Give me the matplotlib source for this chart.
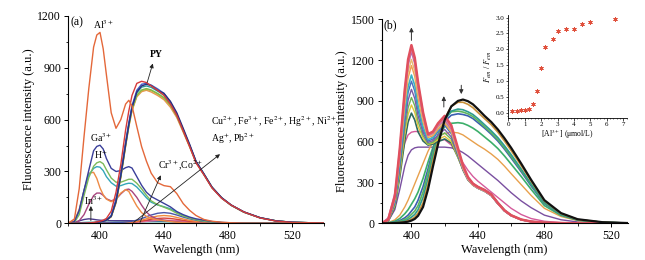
import matplotlib
matplotlib.use('Agg')
import matplotlib.pyplot as plt
from matplotlib.ticker import MultipleLocator

plt.rcParams['font.family'] = ['Liberation Serif', 'DejaVu Serif']
plt.rcParams['mathtext.fontset'] = 'stix'

# ---------------- panel (a) data ----------------
wl_a = [380, 384, 387, 390, 393, 396, 398, 400, 402, 404, 407, 410, 413, 416, 418, 420, 423, 426,
        429, 432, 436, 440, 444, 448, 452, 456, 460, 465, 470, 476, 482, 490, 500, 510, 520, 540]
al3 = [0, 25, 200, 500, 780, 1020, 1090, 1105, 1010, 860, 640, 550, 600, 690, 712, 680, 560, 444,
       360, 290, 235, 218, 212, 172, 114, 75, 45, 22, 12, 6, 3, 1, 0, 0, 0, 0]
py_red = [0, 0, 0, 0, 2, 5, 8, 12, 18, 28, 70, 180, 340, 540, 650, 740, 810, 822,
          815, 795, 770, 740, 690, 625, 535, 445, 350, 280, 205, 145, 105, 65, 31, 13, 5, 1]
py_blue = [0, 0, 0, 0, 1, 3, 5, 8, 12, 18, 45, 140, 290, 470, 580, 680, 770, 805,
           810, 800, 778, 752, 702, 632, 542, 452, 356, 283, 207, 147, 105, 65, 32, 14, 6, 1]
py_navy = [0, 0, 0, 0, 1, 3, 5, 8, 12, 18, 40, 125, 275, 455, 570, 670, 760, 795,
           805, 797, 770, 752, 706, 640, 550, 458, 360, 286, 210, 149, 106, 66, 33, 14, 6, 1]
py_teal = [0, 0, 0, 0, 1, 3, 5, 8, 12, 18, 42, 130, 280, 462, 575, 672, 755, 788,
           795, 787, 765, 742, 696, 630, 542, 452, 357, 284, 208, 147, 105, 65, 32, 14, 6, 1]
py_green = [0, 0, 0, 0, 1, 3, 5, 8, 12, 18, 40, 125, 272, 452, 565, 660, 742, 772,
            780, 772, 752, 728, 686, 622, 536, 448, 355, 283, 208, 147, 104, 64, 32, 14, 6, 1]
py_olive = [0, 0, 0, 0, 1, 3, 5, 8, 12, 18, 38, 120, 268, 448, 560, 655, 737, 767,
            775, 768, 748, 722, 680, 618, 533, 446, 354, 282, 207, 147, 104, 64, 32, 14, 6, 1]
py_orange = [0, 0, 0, 0, 1, 3, 5, 8, 12, 18, 38, 118, 265, 445, 558, 652, 732, 762,
             770, 760, 740, 715, 672, 612, 528, 442, 352, 280, 206, 146, 104, 64, 32, 14, 6, 1]
ga3 = [0, 10, 75, 190, 307, 420, 445, 452, 430, 375, 318, 300, 305, 322, 328, 320, 270, 220,
       180, 155, 135, 115, 95, 68, 50, 36, 26, 18, 10, 5, 3, 1, 0, 0, 0, 0]
h_ion = [0, 4, 50, 160, 265, 330, 350, 357, 345, 310, 262, 238, 238, 248, 255, 255, 232, 200,
         162, 130, 108, 93, 78, 58, 42, 30, 21, 13, 8, 4, 2, 1, 0, 0, 0, 0]
teal_a = [0, 6, 70, 190, 280, 318, 328, 325, 305, 270, 235, 215, 218, 228, 232, 230, 210, 180,
          148, 122, 106, 96, 84, 64, 45, 32, 22, 14, 8, 4, 2, 1, 0, 0, 0, 0]
orange_a = [0, 15, 80, 190, 290, 295, 260, 205, 165, 140, 125, 140, 175, 195, 185, 150, 100, 62,
            40, 28, 20, 15, 10, 6, 4, 2, 1, 0, 0, 0, 0, 0, 0, 0, 0, 0]
magenta_a = [0, 2, 15, 50, 110, 160, 175, 175, 162, 142, 130, 140, 170, 195, 198, 185, 150, 105,
             65, 40, 25, 18, 12, 8, 5, 3, 2, 1, 0, 0, 0, 0, 0, 0, 0, 0]
low1 = [0, 0, 0, 0, 1, 2, 2, 2, 2, 2, 3, 4, 5, 7, 9, 12, 18, 27,
        38, 48, 58, 62, 58, 48, 36, 26, 18, 10, 6, 3, 2, 1, 0, 0, 0, 0]
low2 = [0, 0, 0, 0, 0, 0, 0, 0, 0, 1, 2, 3, 4, 5, 6, 8, 12, 18,
        26, 34, 42, 45, 42, 34, 25, 17, 11, 6, 3, 1, 0, 0, 0, 0, 0, 0]
low3 = [0, 0, 0, 0, 0, 0, 0, 0, 0, 1, 1, 2, 3, 4, 5, 6, 9, 13,
        18, 23, 28, 30, 28, 23, 17, 12, 8, 4, 2, 1, 0, 0, 0, 0, 0, 0]
low4 = [0, 0, 0, 0, 0, 0, 0, 0, 0, 0, 1, 1, 2, 2, 3, 4, 6, 8,
        11, 14, 17, 18, 17, 14, 10, 7, 5, 3, 1, 0, 0, 0, 0, 0, 0, 0]
low5 = [0, 5, 14, 22, 26, 23, 20, 18, 17, 16, 15, 15, 15, 15, 15, 15, 15, 15,
        15, 15, 15, 15, 14, 13, 12, 10, 8, 6, 4, 2, 1, 0, 0, 0, 0, 0]
low6 = [0, 1, 3, 5, 6, 6, 6, 6, 6, 6, 6, 7, 7, 8, 8, 8, 9, 9,
        9, 9, 9, 9, 8, 8, 7, 6, 5, 4, 3, 2, 1, 0, 0, 0, 0, 0]

# ---------------- panel (b) data ----------------
wl_b = [382, 386, 390, 393, 396, 398, 400, 402, 404, 407, 410, 413, 416, 420, 424, 428,
        431, 434, 437, 440, 444, 448, 452, 456, 460, 466, 472, 480, 490, 500, 515, 530]
b_py = [0, 0, 2, 4, 8, 12, 20, 32, 55, 120, 250, 420, 580, 760, 860, 900,
        910, 898, 875, 840, 790, 745, 690, 625, 555, 440, 320, 170, 75, 30, 8, 2]
b_olive = [0, 0, 3, 6, 12, 18, 30, 45, 75, 150, 290, 460, 610, 770, 860, 890,
           890, 875, 850, 815, 770, 725, 670, 605, 535, 425, 310, 165, 72, 28, 7, 2]
b_teal = [0, 1, 4, 9, 18, 28, 45, 65, 100, 190, 330, 490, 630, 760, 825, 840,
          835, 820, 800, 770, 725, 680, 630, 570, 505, 400, 290, 155, 68, 27, 7, 2]
b_green = [0, 1, 6, 14, 28, 42, 65, 90, 130, 230, 370, 520, 650, 770, 820, 825,
           818, 805, 785, 755, 710, 665, 615, 555, 490, 390, 285, 150, 66, 26, 7, 2]
b_blue = [0, 2, 8, 20, 40, 60, 90, 120, 170, 270, 400, 540, 650, 750, 795, 805,
          800, 790, 770, 740, 700, 655, 605, 545, 480, 380, 275, 145, 64, 25, 7, 2]
b_green2 = [0, 3, 15, 35, 70, 100, 140, 180, 230, 330, 450, 560, 640, 710, 735, 740,
            735, 720, 700, 675, 635, 595, 550, 495, 435, 345, 250, 130, 58, 23, 6, 2]
b_orange = [0, 5, 25, 60, 120, 170, 230, 290, 350, 440, 530, 600, 640, 660, 670, 665,
            650, 625, 600, 575, 545, 510, 470, 420, 365, 285, 205, 110, 50, 20, 5, 1]
b_purple = [0, 15, 100, 250, 420, 500, 540, 555, 560, 560, 560, 560, 560, 560, 555, 540,
            520, 495, 465, 435, 395, 355, 315, 270, 225, 165, 115, 60, 26, 10, 3, 1]
b_magenta = [0, 40, 220, 430, 590, 650, 670, 675, 675, 670, 655, 630, 610, 615, 575, 505,
             445, 390, 345, 310, 270, 230, 190, 150, 110, 65, 35, 15, 5, 2, 0, 0]
h810 = [0, 16, 122, 340, 608, 745, 810, 760, 672, 605, 575, 582, 600, 620, 590, 485,
        400, 330, 292, 268, 246, 214, 152, 97, 60, 28, 13, 5, 2, 0, 0, 0]
h870 = [0, 17, 130, 365, 655, 800, 870, 815, 712, 625, 580, 590, 615, 640, 600, 485,
        392, 322, 285, 262, 240, 208, 147, 93, 58, 27, 13, 5, 2, 0, 0, 0]
h925 = [0, 18, 140, 390, 695, 850, 925, 865, 750, 645, 585, 597, 633, 665, 618, 490,
        390, 318, 281, 258, 236, 204, 144, 91, 56, 26, 12, 5, 2, 0, 0, 0]
h985 = [0, 19, 148, 415, 740, 905, 985, 918, 790, 665, 595, 608, 650, 690, 635, 498,
        392, 318, 280, 257, 235, 203, 143, 90, 56, 26, 12, 5, 2, 0, 0, 0]
h1045 = [0, 20, 158, 440, 785, 962, 1045, 972, 830, 690, 605, 620, 675, 720, 658, 512,
         398, 320, 281, 258, 236, 204, 144, 91, 56, 26, 12, 5, 2, 0, 0, 0]
h1090 = [0, 21, 165, 460, 818, 1003, 1090, 1015, 865, 710, 615, 632, 690, 740, 672, 520,
         402, 322, 282, 259, 237, 205, 145, 92, 57, 26, 12, 5, 2, 0, 0, 0]
h1160 = [0, 22, 175, 490, 870, 1068, 1160, 1080, 920, 745, 630, 645, 692, 735, 670, 518,
         400, 320, 280, 258, 236, 204, 144, 91, 56, 26, 12, 5, 2, 0, 0, 0]
h1205 = [0, 23, 180, 505, 905, 1110, 1205, 1120, 955, 765, 640, 655, 705, 750, 683, 528,
         405, 325, 282, 260, 238, 206, 145, 92, 57, 26, 12, 5, 2, 0, 0, 0]
h1260 = [0, 24, 185, 530, 945, 1160, 1260, 1172, 995, 790, 645, 662, 715, 760, 692, 535,
         412, 330, 285, 262, 240, 208, 146, 92, 57, 27, 13, 5, 2, 0, 0, 0]
h1290 = [0, 25, 190, 540, 965, 1185, 1290, 1200, 1020, 805, 650, 668, 725, 775, 705, 545,
         420, 335, 288, 265, 242, 210, 148, 94, 58, 27, 13, 5, 2, 0, 0, 0]
h1310 = [0, 26, 197, 550, 983, 1205, 1310, 1218, 1035, 815, 655, 675, 735, 790, 720, 553,
         427, 340, 292, 268, 245, 213, 150, 95, 59, 28, 13, 5, 2, 0, 0, 0]

# ---------------- inset data ----------------
al_conc = [0.25, 0.5, 0.75, 1.0, 1.25, 1.5, 1.75, 2.0, 2.25, 2.75, 3.0, 3.5, 4.0, 4.5, 5.0, 6.5]
f_ratio = [0.08, 0.08, 0.09, 0.09, 0.13, 0.28, 0.70, 1.43, 2.07, 2.33, 2.57, 2.65, 2.65, 2.80, 2.85, 2.94]

fig = plt.figure(figsize=(6.45, 2.6), dpi=100)
ax_a = fig.add_axes([68/645, 36.7/260, 256/645, 207.3/260])
ax_b = fig.add_axes([381.5/645, 36.7/260, 246/645, 204/260])
ax_in = fig.add_axes([508.3/645, 142.3/260, 118.2/645, 102.7/260])


def style(ax, fs=8.5):
    for s in ('top', 'right'):
        ax.spines[s].set_visible(False)
    for s in ('left', 'bottom'):
        ax.spines[s].set_linewidth(0.8)
    ax.tick_params(which='major', direction='out', length=3, width=0.7, labelsize=fs, pad=2)
    ax.tick_params(which='minor', direction='out', length=1.8, width=0.6)


# ----- panel a -----
lw = 1.0
ax_a.plot(wl_a, low6, color='#3AA0A0', lw=lw)
ax_a.plot(wl_a, low5, color='#4B3A8C', lw=lw)
ax_a.plot(wl_a, low4, color='#E26C9A', lw=lw)
ax_a.plot(wl_a, low3, color='#D9453A', lw=lw)
ax_a.plot(wl_a, low2, color='#F08A3C', lw=lw)
ax_a.plot(wl_a, low1, color='#4B56A8', lw=lw)
ax_a.plot(wl_a, magenta_a, color='#A8457E', lw=lw)
ax_a.plot(wl_a, orange_a, color='#EE8A45', lw=lw)
ax_a.plot(wl_a, teal_a, color='#33A6B8', lw=lw)
ax_a.plot(wl_a, h_ion, color='#7DBA5A', lw=lw)
ax_a.plot(wl_a, ga3, color='#3A3F9A', lw=lw)
ax_a.plot(wl_a, py_orange, color='#E99550', lw=lw)
ax_a.plot(wl_a, py_olive, color='#C9B245', lw=lw)
ax_a.plot(wl_a, py_green, color='#7DBA4A', lw=lw)
ax_a.plot(wl_a, py_teal, color='#2E9E9A', lw=lw)
ax_a.plot(wl_a, py_blue, color='#3F5FC8', lw=lw)
ax_a.plot(wl_a, py_navy, color='#2C2F7E', lw=lw)
ax_a.plot(wl_a, py_red, color='#D63A3A', lw=lw)
ax_a.plot(wl_a, al3, color='#E4683A', lw=lw)

ax_a.set_xlim(380, 540)
ax_a.set_ylim(0, 1200)
ax_a.xaxis.set_major_locator(MultipleLocator(40))
ax_a.xaxis.set_minor_locator(MultipleLocator(20))
ax_a.yaxis.set_major_locator(MultipleLocator(300))
ax_a.yaxis.set_minor_locator(MultipleLocator(150))
style(ax_a)
ax_a.set_xlabel('Wavelength (nm)', fontsize=9, labelpad=1)
ax_a.set_ylabel('Fluorescence intensity (a.u.)', fontsize=9, labelpad=2)

tfs = 7
ax_a.text(381.8, 1200, '(a)', fontsize=8.5, va='top', ha='left')
ax_a.text(402, 1150, 'Al$^{3+}$', fontsize=7, ha='center', va='center')
ax_a.text(435, 977, 'PY', fontsize=7, ha='center', va='center', fontweight='bold')
ax_a.text(401, 497, 'Ga$^{3+}$', fontsize=7, ha='center', va='center')
ax_a.text(400.5, 395, 'H$^{+}$', fontsize=7, ha='center', va='center')
ax_a.text(396, 130, 'In$^{3+}$', fontsize=7, ha='center', va='center')
ax_a.text(436, 334, 'Cr$^{3+}$,Co$^{2+}$', fontsize=7, ha='left', va='center')
ax_a.text(469.4, 588, 'Cu$^{2+}$, Fe$^{3+}$, Fe$^{2+}$, Hg$^{2+}$, Ni$^{2+}$,', fontsize=tfs,
          ha='left', va='center', clip_on=False)
ax_a.text(469.4, 492, 'Ag$^{+}$, Pb$^{2+}$', fontsize=tfs, ha='left', va='center', clip_on=False)

arr = dict(arrowstyle='-|>', lw=0.6, color='#222222', mutation_scale=6, shrinkA=0, shrinkB=0)
ax_a.annotate('', xy=(433, 925), xytext=(429.5, 815), arrowprops=arr)
ax_a.annotate('', xy=(394.3, 100), xytext=(394.3, 15), arrowprops=arr)
ax_a.annotate('', xy=(438, 278), xytext=(425, 5), arrowprops=arr)
ax_a.annotate('', xy=(475, 400), xytext=(421, 5), arrowprops=arr)

# ----- panel b -----
ax_b.plot(wl_b, b_magenta, color='#D45A9B', lw=lw)
ax_b.plot(wl_b, b_purple, color='#7A4FA0', lw=lw)
ax_b.plot(wl_b, b_orange, color='#E8A04C', lw=lw)
ax_b.plot(wl_b, b_green2, color='#3CAF6A', lw=1.2)
ax_b.plot(wl_b, b_blue, color='#3A5FB0', lw=1.2)
ax_b.plot(wl_b, b_green, color='#5DB55D', lw=1.2)
ax_b.plot(wl_b, b_teal, color='#2E9C8F', lw=1.2)
ax_b.plot(wl_b, b_olive, color='#C8913A', lw=1.2)
ax_b.plot(wl_b, h810, color='#2E6B5E', lw=1.2)
ax_b.plot(wl_b, h870, color='#E3C53C', lw=lw)
ax_b.plot(wl_b, h925, color='#6DB35A', lw=lw)
ax_b.plot(wl_b, h985, color='#7D5BA6', lw=lw)
ax_b.plot(wl_b, h1045, color='#4A6FC0', lw=lw)
ax_b.plot(wl_b, h1090, color='#3BB3C3', lw=1.2)
ax_b.plot(wl_b, h1160, color='#F0A050', lw=lw)
ax_b.plot(wl_b, h1205, color='#E8B870', lw=lw)
ax_b.plot(wl_b, h1260, color='#B06AB0', lw=lw)
ax_b.plot(wl_b, h1290, color='#E07AA0', lw=1.4)
ax_b.plot(wl_b, h1310, color='#E0505E', lw=1.8)
ax_b.plot(wl_b, b_py, color='#111111', lw=1.6)

ax_b.set_xlim(382, 530)
ax_b.set_ylim(0, 1500)
ax_b.xaxis.set_major_locator(MultipleLocator(40))
ax_b.xaxis.set_minor_locator(MultipleLocator(20))
ax_b.yaxis.set_major_locator(MultipleLocator(300))
ax_b.yaxis.set_minor_locator(MultipleLocator(150))
style(ax_b)
ax_b.set_xlabel('Wavelength (nm)', fontsize=9, labelpad=1)
ax_b.set_ylabel('Fluorescence intensity (a.u.)', fontsize=9, labelpad=2)
ax_b.text(383.3, 1500, '(b)', fontsize=8.5, va='top', ha='left')

arr_b = dict(arrowstyle='-|>', lw=0.7, color='#333333', mutation_scale=6, shrinkA=0, shrinkB=0)
ax_b.annotate('', xy=(400, 1440), xytext=(400, 1345), arrowprops=arr_b)
ax_b.annotate('', xy=(419.5, 935), xytext=(419.5, 855), arrowprops=arr_b)
ax_b.annotate('', xy=(430, 950), xytext=(430, 1015), arrowprops=arr_b)

# ----- inset -----
ax_in.plot(al_conc, f_ratio, linestyle='none', marker=(6, 2, 0), markersize=3.2,
           color='#E0503C', markeredgewidth=0.6)
ax_in.set_xlim(0, 7.2)
ax_in.set_ylim(-0.14, 3.08)
ax_in.xaxis.set_minor_locator(MultipleLocator(0.2))
ax_in.yaxis.set_minor_locator(MultipleLocator(0.1))
ax_in.set_xticks([0, 1, 2, 3, 4, 5, 6, 7])
ax_in.set_yticks([0.0, 0.5, 1.0, 1.5, 2.0, 2.5, 3.0])
ax_in.set_yticklabels(['0.0', '0.5', '1.0', '1.5', '2.0', '2.5', '3.0'])
style(ax_in, fs=5)
ax_in.tick_params(which='major', length=1.8, width=0.5, pad=1)
ax_in.tick_params(which='minor', length=1.0, width=0.4)
for s in ('left', 'bottom'):
    ax_in.spines[s].set_linewidth(0.6)
ax_in.set_xlabel('[Al$^{3+}$] (μmol/L)', fontsize=5.5, labelpad=1)
ax_in.set_ylabel('$F_{em}$ / $F_{em}$', fontsize=6, labelpad=1)

fig.savefig('out.png', dpi=100)
